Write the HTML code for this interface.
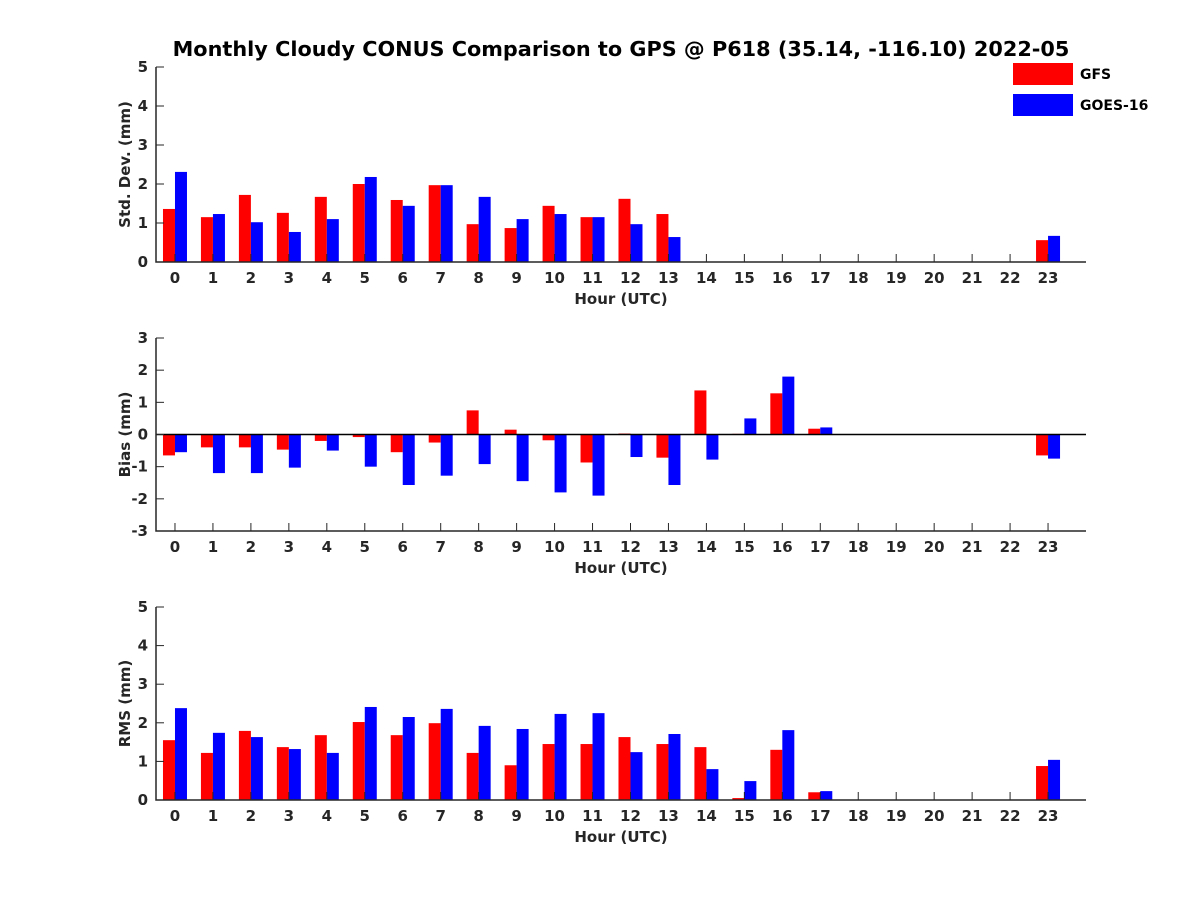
<!DOCTYPE html>
<html><head><meta charset="utf-8">
<style>
html,body{margin:0;padding:0;background:#fff;}
svg{display:block;font-family:"DejaVu Sans","Liberation Sans",sans-serif;font-weight:bold;}
</style></head>
<body>
<svg id="chart" width="1200" height="900" viewBox="0 0 1200 900">
<text x="621" y="56" font-size="20.8" text-anchor="middle">Monthly Cloudy CONUS Comparison to GPS @ P618 (35.14, -116.10) 2022-05</text>
<g>
<rect x="1013" y="63" width="60" height="22" fill="#ff0000"/>
<text x="1080" y="79" font-size="14">GFS</text>
<rect x="1013" y="94" width="60" height="22" fill="#0000ff"/>
<text x="1080" y="110" font-size="14">GOES-16</text>
</g>
</svg>
<script>
const hours = [0,1,2,3,4,5,6,7,8,9,10,11,12,13,14,15,16,17,18,19,20,21,22,23];
const stdGFS  = [1.36,1.15,1.72,1.26,1.67,2.0,1.59,1.97,0.97,0.87,1.44,1.15,1.62,1.23,0,0,0,0,0,0,0,0,0,0.56];
const stdGOES = [2.31,1.23,1.02,0.77,1.1,2.18,1.44,1.97,1.67,1.1,1.23,1.15,0.97,0.64,0,0,0,0,0,0,0,0,0,0.67];
const biasGFS  = [-0.65,-0.4,-0.4,-0.47,-0.2,-0.08,-0.55,-0.25,0.75,0.15,-0.18,-0.87,0.03,-0.72,1.37,0.02,1.28,0.18,0,0,0,0,0,-0.65];
const biasGOES = [-0.55,-1.2,-1.2,-1.03,-0.5,-1.0,-1.57,-1.28,-0.92,-1.45,-1.8,-1.9,-0.7,-1.57,-0.78,0.5,1.8,0.22,0,0,0,0,0,-0.75];
const rmsGFS  = [1.55,1.22,1.79,1.37,1.68,2.02,1.68,1.99,1.22,0.9,1.45,1.45,1.63,1.45,1.37,0.05,1.3,0.2,0,0,0,0,0,0.88];
const rmsGOES = [2.38,1.74,1.63,1.32,1.22,2.41,2.15,2.36,1.92,1.84,2.23,2.25,1.24,1.71,0.8,0.49,1.81,0.23,0,0,0,0,0,1.04];
const stdTicks = [0,1,2,3,4,5];
const biasTicks = [-3,-2,-1,0,1,2,3];
const rmsTicks = [0,1,2,3,4,5];

const NS = "http://www.w3.org/2000/svg";
const svg = document.getElementById('chart');
function mk(tag, attrs, parent){
  const e = document.createElementNS(NS, tag);
  for (const k in attrs) e.setAttribute(k, attrs[k]);
  parent.appendChild(e); return e;
}
const X0 = 156, X1 = 1086, XMIN = -0.5, XMAX = 24;
function xs(v){ return X0 + (v - XMIN) / (XMAX - XMIN) * (X1 - X0); }

function panel(name, top, bottom, ymin, ymax, ticks, gfs, goes, ylabel, zeroLine){
  const g = mk('g', {}, svg);
  
  
  const ys = v => bottom - (v - ymin) / (ymax - ymin) * (bottom - top);
  const bw = 12;
  hours.forEach((h, i) => {
    const y0 = ys(0);
    const r = mk('rect', {x: xs(h) - bw, y: Math.min(ys(gfs[i]), y0), width: bw, height: Math.abs(ys(gfs[i]) - y0), fill: '#ff0000'}, g);
    
    
    const b = mk('rect', {x: xs(h), y: Math.min(ys(goes[i]), y0), width: bw, height: Math.abs(ys(goes[i]) - y0), fill: '#0000ff'}, g);
    
    
  });
  if (zeroLine){
    const z = mk('line', {x1: X0, x2: X1, y1: ys(0), y2: ys(0), stroke: '#000', 'stroke-width': 1.5}, g);
    
    
  }
  const ax = mk('path', {d: `M${X0},${top}V${bottom}H${X1}`, stroke: '#262626', 'stroke-width': 1.5, fill: 'none'}, g);
  
  
  ticks.forEach(t => {
    const y = ys(t);
    mk('line', {x1: X0, x2: X0 + 8, y1: y, y2: y, stroke: '#262626', 'stroke-width': 1}, g);
    const tl = mk('text', {x: X0 - 8, y: y + 5, 'font-size': 15, 'text-anchor': 'end', fill: '#262626'}, g);
    tl.textContent = t;
    
    
  });
  hours.forEach(h => {
    const x = xs(h);
    mk('line', {x1: x, x2: x, y1: bottom, y2: bottom - 8, stroke: '#262626', 'stroke-width': 1}, g);
    const tl = mk('text', {x: x, y: bottom + 21, 'font-size': 15, 'text-anchor': 'middle', fill: '#262626'}, g);
    tl.textContent = h;
    
    
  });
  const xl = mk('text', {x: 621, y: bottom + 42, 'font-size': 15, 'text-anchor': 'middle', fill: '#262626'}, g);
  xl.textContent = 'Hour (UTC)';
  
  
  const cy = (top + bottom) / 2;
  const yl = mk('text', {x: 130, y: cy, 'font-size': 15, 'text-anchor': 'middle', fill: '#262626', transform: `rotate(-90 130 ${cy})`}, g);
  yl.textContent = ylabel;
  
  
}
panel('std', 67, 262, 0, 5, stdTicks, stdGFS, stdGOES, 'Std. Dev. (mm)', false);
panel('bias', 338, 531, -3, 3, biasTicks, biasGFS, biasGOES, 'Bias (mm)', true);
panel('rms', 607, 800, 0, 5, rmsTicks, rmsGFS, rmsGOES, 'RMS (mm)', false);
</script>
</body></html>
